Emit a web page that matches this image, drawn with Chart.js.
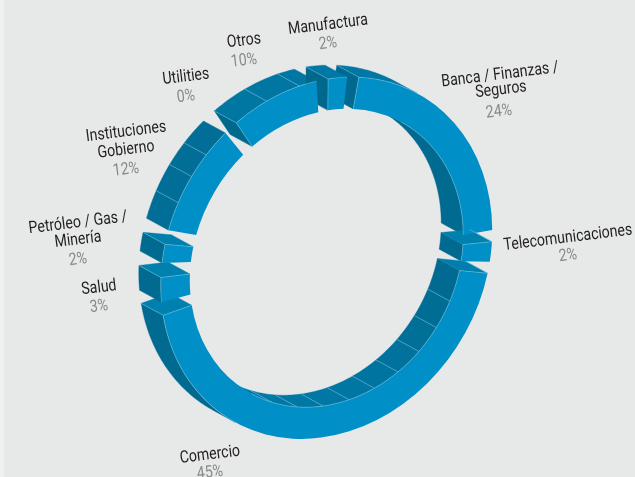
<!DOCTYPE html>
<html lang="es">
<head>
<meta charset="UTF-8" />
<title>Ingresos por sector</title>
<script src="https://cdn.jsdelivr.net/npm/chart.js"></script>
<style>
  html, body { margin: 0; padding: 0; width: 635px; height: 477px; overflow: hidden; }
  body { background: linear-gradient(to right, #eef0f2 4px, #e7e9e9 4px); }
  canvas { display: block; }
</style>
</head>
<body>
<canvas id="ring" width="635" height="477"></canvas>
<script>
// clockwise from the top
const categories = [
  ['Banca / Finanzas /', 'Seguros'],
  ['Telecomunicaciones'],
  ['Comercio'],
  ['Salud'],
  ['Petróleo / Gas /', 'Minería'],
  ['Instituciones', 'Gobierno'],
  ['Utilities'],
  ['Otros'],
  ['Manufactura']
];
const values = [24, 2, 45, 3, 2, 12, 0, 10, 2];

// centre of every text line of a label, percentage line last
const labelSpots = [
  [[500, 75], [501, 90], [499, 112]],
  [[568, 238], [568, 256]],
  [[210, 455], [210, 473]],
  [[99, 288], [99, 307]],
  [[78, 223], [78, 240], [78, 260]],
  [[126, 132], [126, 150], [126, 170]],
  [[186, 77], [186, 97]],
  [[244, 41], [244, 61]],
  [[328, 25], [328, 44]]
];

const FRONT = '#008fc6';
const RING_X = 326.5, RING_Y = 258;    // where the ring centre lands
const AXIS_LONG = 188, AXIS_SHORT = 157.6;
const AXIS_ANGLE = -60 * Math.PI / 180;
const DEPTH = { x: -22, y: -12 };      // front face to back face
const DEG = Math.PI / 180;
// gap at the start and end of each block, degrees (the drawing is not even)
const blockTrim = [[3.9, 3.9], [-0.2, 1], [2.6, 2.7], [1.6, 1.2], [3.4, -2.1], [6.6, 1.7], [0, 0], [2.9, 3.6], [0.4, 0.2]];
// facet width in degrees for the walls that show thin facet lines
const outerFacets = { 5: 8.6, 7: 11.5 };
const innerFacets = { 2: 11 };

const mx = Math.cos(AXIS_ANGLE), my = Math.sin(AXIS_ANGLE);
const nx = -my, ny = mx;
function pt(el, ang, r) {
  const k = 1 / el.outerRadius;
  const qx = r * Math.cos(ang), qy = r * Math.sin(ang);
  const u = (mx * qx + my * qy) * AXIS_LONG * k;
  const v = (nx * qx + ny * qy) * AXIS_SHORT * k;
  return { x: RING_X + u * mx + v * nx, y: RING_Y + u * my + v * ny };
}
function back(p) { return { x: p.x + DEPTH.x, y: p.y + DEPTH.y }; }

function mix(c1, c2, t) {
  t = Math.max(0, Math.min(1, t));
  return 'rgb(' + c1.map((c, i) => Math.round(c + (c2[i] - c) * t)).join(',') + ')';
}
function wallColor(up) { return mix([0, 106, 144], [0, 120, 166], (-up - 0.3) / 0.7); }
function capColor(up) { return mix([0, 104, 141], [0, 128, 174], -up); }

function poly(ctx, pts, color) {
  ctx.beginPath();
  pts.forEach((p, i) => i ? ctx.lineTo(p.x, p.y) : ctx.moveTo(p.x, p.y));
  ctx.closePath();
  ctx.fillStyle = color;
  ctx.strokeStyle = color;
  ctx.lineWidth = 0.4;
  ctx.fill();
  ctx.stroke();
}
function hair(ctx, pts) {
  ctx.beginPath();
  pts.forEach((p, i) => i ? ctx.lineTo(p.x, p.y) : ctx.moveTo(p.x, p.y));
  ctx.strokeStyle = 'rgba(150,210,235,0.7)';
  ctx.lineWidth = 0.6;
  ctx.stroke();
}

// visible stretches of one curved wall, cut at the facets
function wallRuns(el, r, sign, facetDeg) {
  const a = el.startAngle, b = el.endAngle;
  const n = Math.max(1, Math.ceil((b - a) / DEG));
  const step = facetDeg ? facetDeg * DEG : Infinity;
  const runs = [];
  let run = null;
  for (let s = 0; s < n; s++) {
    const t1 = a + (b - a) * s / n, t2 = a + (b - a) * (s + 1) / n;
    const p1 = pt(el, t1, r), p2 = pt(el, t2, r);
    const dx = p2.x - p1.x, dy = p2.y - p1.y, len = Math.hypot(dx, dy);
    const nnx = sign * dy / len, nny = -sign * dx / len;
    const seen = nnx * DEPTH.x + nny * DEPTH.y > 0;
    const facet = Math.floor((t1 + 1e-6 - a) / step);
    if (!seen) { run = null; continue; }
    if (!run || run.facet !== facet) {
      run = { facet, pts: [p1], up: 0, count: 0, first: run !== null };
      runs.push(run);
    }
    run.pts.push(p2);
    run.up += nny;
    run.count++;
  }
  return runs;
}

function blockSides(ctx, el, i) {
  const ro = el.outerRadius, ri = el.innerRadius;
  [[ro, 1, outerFacets[i]], [ri, -1, innerFacets[i]]].forEach(([r, sign, facet]) => {
    const runs = wallRuns(el, r, sign, facet);
    // outer walls keep one flat colour per block, the long inner wall shades along
    const upAll = runs.reduce((s, run) => s + run.up, 0) / Math.max(1, runs.reduce((s, run) => s + run.count, 0));
    runs.forEach(run => {
      const pts = run.pts.concat(run.pts.map(back).reverse());
      poly(ctx, pts, wallColor(sign > 0 ? upAll : run.up / run.count));
    });
  });
  [[el.startAngle, -1], [el.endAngle, 1]].forEach(([ang, dir]) => {
    const p1 = pt(el, ang, ro), p2 = pt(el, ang, ri);
    const q = pt(el, ang + 0.01, (ro + ri) / 2), q0 = pt(el, ang, (ro + ri) / 2);
    const dx = (q.x - q0.x) * dir, dy = (q.y - q0.y) * dir, len = Math.hypot(dx, dy);
    if (dx * DEPTH.x + dy * DEPTH.y > 0) {
      poly(ctx, [p1, p2, back(p2), back(p1)], capColor(dy / len));
    }
  });
}

function blockLines(ctx, el, i) {
  const ro = el.outerRadius, ri = el.innerRadius;
  [[ro, 1, outerFacets[i]], [ri, -1, innerFacets[i]]].forEach(([r, sign, facet]) => {
    wallRuns(el, r, sign, facet).forEach(run => {
      hair(ctx, run.pts);
      if (run.first) hair(ctx, [run.pts[0], back(run.pts[0])]);
    });
  });
  [el.startAngle, el.endAngle].forEach((ang, k) => {
    const dir = k ? 1 : -1;
    const q = pt(el, ang + 0.01, (ro + ri) / 2), q0 = pt(el, ang, (ro + ri) / 2);
    if ((q.x - q0.x) * dir * DEPTH.x + (q.y - q0.y) * dir * DEPTH.y > 0) {
      const p1 = pt(el, ang, ro), p2 = pt(el, ang, ri);
      hair(ctx, [p1, p2]);
      hair(ctx, [p1, back(p1)]);
    }
  });
}

const ringPlugin = {
  id: 'ring3d',
  afterDatasetsUpdate(chart) {
    chart.getDatasetMeta(0).data.forEach((el, i) => {
      if (el.circumference > 0) {
        const [t1, t2] = blockTrim[i];
        el.startAngle += t1 * DEG;
        el.endAngle -= t2 * DEG;
        el.circumference -= (t1 + t2) * DEG;
      }
    });
  },
  beforeDatasetsDraw(chart) {
    const ctx = chart.ctx;
    const arcs = chart.getDatasetMeta(0).data;
    arcs.forEach((el, i) => { if (el.circumference > 0) blockSides(ctx, el, i); });
    const el = arcs[0];
    const k = 1 / el.outerRadius;
    const a = AXIS_LONG * k, b = AXIS_SHORT * k;
    ctx.save();
    ctx.setTransform(a * mx * mx + b * nx * nx, a * mx * my + b * nx * ny,
                     a * mx * my + b * nx * ny, a * my * my + b * ny * ny,
                     RING_X, RING_Y);
    ctx.translate(-el.x, -el.y);
  },
  afterDatasetsDraw(chart) {
    const ctx = chart.ctx;
    ctx.restore();
    chart.getDatasetMeta(0).data.forEach((el, i) => {
      if (el.circumference > 0) blockLines(ctx, el, i);
    });
    ctx.textAlign = 'center';
    ctx.textBaseline = 'middle';
    categories.forEach((lines, i) => {
      const spots = labelSpots[i];
      lines.concat(values[i] + '%').forEach((txt, j) => {
        const isPct = j === lines.length;
        ctx.save();
        ctx.translate(spots[j][0], spots[j][1]);
        ctx.rotate(-7 * DEG);
        ctx.scale(0.83, 1);
        ctx.font = '17px Roboto';
        ctx.fillStyle = isPct ? '#87898b' : '#231f20';
        ctx.fillText(txt, 0, 0);
        ctx.restore();
      });
    });
  }
};

new Chart(document.getElementById('ring'), {
  type: 'doughnut',
  data: {
    labels: categories,
    datasets: [{
      data: values,
      backgroundColor: FRONT,
      borderWidth: 0,
      clip: false
    }]
  },
  options: {
    responsive: false,
    animation: false,
    events: [],
    rotation: 2.8,
    cutout: '82.5%',
    layout: { padding: 0 },
    plugins: { legend: { display: false }, tooltip: { enabled: false } }
  },
  plugins: [ringPlugin]
});
</script>
</body>
</html>
